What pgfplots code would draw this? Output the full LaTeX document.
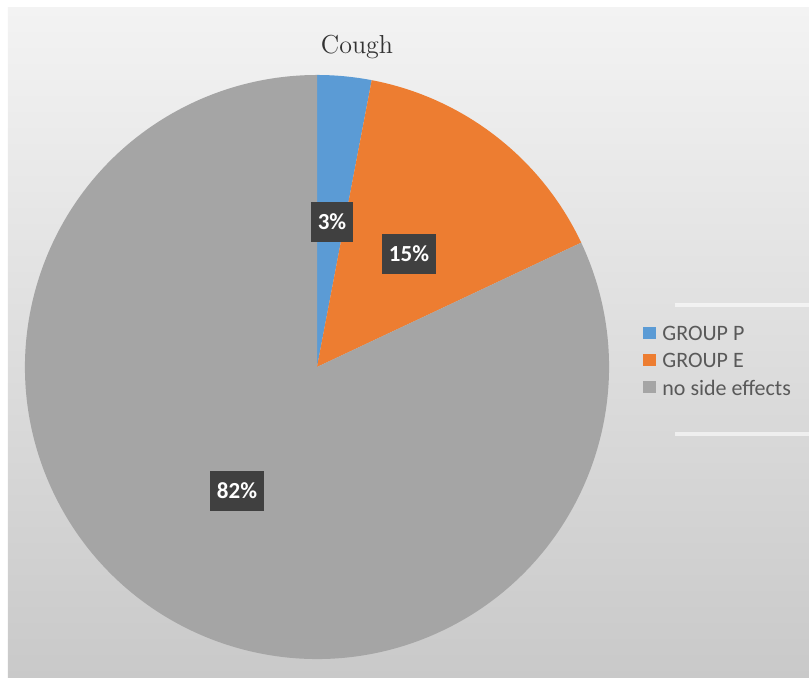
\documentclass[border=0pt]{standalone}
\usepackage{fontspec}
\usepackage{pgfplots}
\usepackage{pgfplotstable}
\pgfplotsset{compat=1.18}
\newfontfamily\carlito{Carlito}
\definecolor{cP}{HTML}{5B9BD5}
\definecolor{cE}{HTML}{ED7D31}
\definecolor{cN}{HTML}{A5A5A5}
\definecolor{lbl}{HTML}{404040}
\definecolor{legtext}{HTML}{595959}
\definecolor{bgtop}{HTML}{F3F3F3}
\definecolor{bgbot}{HTML}{C9C9C9}

\pgfplotstableread{
group value
P 3
E 15
N 82
}\piedata

\begin{document}
\begin{tikzpicture}
\pgfplotstablegetelem{0}{value}\of\piedata \let\vP\pgfplotsretval
\pgfplotstablegetelem{1}{value}\of\piedata \let\vE\pgfplotsretval
\pgfplotstablegetelem{2}{value}\of\piedata \let\vN\pgfplotsretval
\pgfmathsetmacro\aA{90-3.6*\vP}
\pgfmathsetmacro\aB{\aA-3.6*\vE}
\pgfmathsetmacro\aC{\aB-3.6*\vN}
\tikzset{lblbox/.style={fill=lbl, text=white, font=\carlito\bfseries\fontsize{11.5}{13}\selectfont, inner xsep=3.3pt, minimum height=20pt}}
\begin{axis}[scale only axis, width=404.5pt, height=339pt,
  xmin=0, xmax=809, ymin=0, ymax=678, hide axis, clip=false]
\coordinate (BL) at (axis cs:0,0);
\coordinate (TR) at (axis cs:809,678);
\shade[top color=bgtop, bottom color=bgbot] (axis cs:8,0) rectangle (axis cs:809,670);
\draw[white, opacity=0.6, line width=2pt] (axis cs:675,373) -- (axis cs:809,373);
\draw[white, opacity=0.6, line width=2pt] (axis cs:675,244) -- (axis cs:809,244);
% pie wedges
\fill[cP] (axis cs:317,311) -- ++(90:146pt) arc[start angle=90, end angle=\aA, radius=146pt] -- cycle;
\fill[cE] (axis cs:317,311) -- ++(\aA:146pt) arc[start angle=\aA, end angle=\aB, radius=146pt] -- cycle;
\fill[cN] (axis cs:317,311) -- ++(\aB:146pt) arc[start angle=\aB, end angle=\aC, radius=146pt] -- cycle;
% labels
\node[lblbox] at (axis cs:332,456) {\vP\%};
\node[lblbox] at (axis cs:409,424) {\vE\%};
\node[lblbox] at (axis cs:237,187) {\vN\%};
% title
\node[font=\fontsize{13}{15}\selectfont, text=black!80] at (axis cs:357,631) {Cough};
% legend
\fill[cP] (axis cs:643,339) rectangle (axis cs:656,351);
\fill[cE] (axis cs:643,312) rectangle (axis cs:656,324);
\fill[cN] (axis cs:643,285) rectangle (axis cs:656,297);
\node[anchor=west, font=\carlito\fontsize{11}{13}\selectfont, text=legtext, inner sep=0pt] at (axis cs:662,345) {GROUP P};
\node[anchor=west, font=\carlito\fontsize{11}{13}\selectfont, text=legtext, inner sep=0pt] at (axis cs:662,318) {GROUP E};
\node[anchor=west, font=\carlito\fontsize{11}{13}\selectfont, text=legtext, inner sep=0pt] at (axis cs:662,290) {no side effects};
\end{axis}
\pgfresetboundingbox
\path (BL) rectangle (TR);
\end{tikzpicture}
\end{document}
